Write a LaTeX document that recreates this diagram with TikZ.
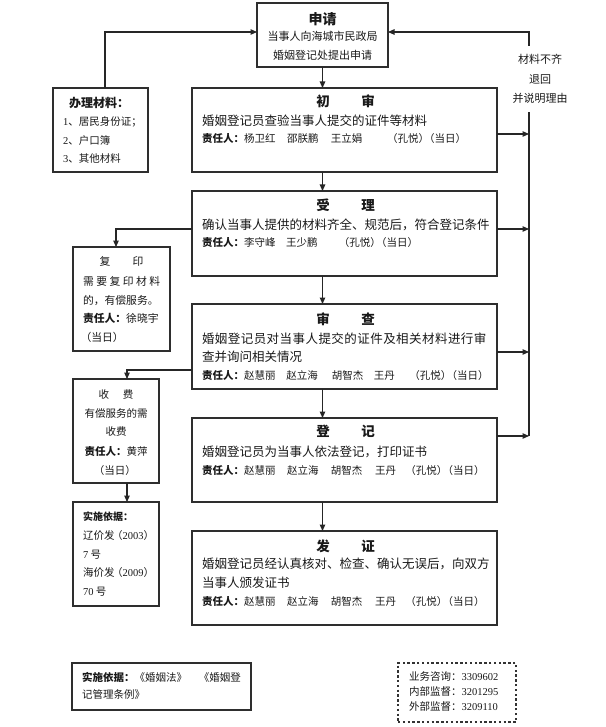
\documentclass[tikz,border=0pt]{standalone}
\usepackage{fontspec}
\setmainfont{Noto Sans CJK SC}
\newfontfamily\dig{Liberation Serif}
\usetikzlibrary{arrows.meta,calc}
\newcommand\pp[1]{\hspace{-2.5pt}（#1）\hspace{-2.5pt}}
\def\spaced#1#2{\def\spgap{#1}\sploop#2\relax}
\def\sploop#1{\ifx#1\relax\else#1\hspace{\spgap}\expandafter\sploop\fi}
\newcommand\tline[6][base west]{\node[txt,anchor=#1,font=\fontsize{#5pt}{#5pt}\selectfont] (#2) at (#3,{#4+0.37*#5}) {#6};}
\begin{document}
\begin{tikzpicture}[x=1pt,y=-1pt,
 box/.style={draw=black!82,line width=1.1pt,inner sep=0,outer sep=0},
 arr/.style={draw=black!85,line width=1.1pt,-{Triangle[length=6.5pt,width=5.5pt]}},
 txt/.style={inner sep=0,outer sep=0,text=black!90}]
\fill[white] (0,0) rectangle (605,727);
\useasboundingbox (0,0) rectangle (605,727);

% boxes
\node[box,minimum width=131,minimum height=64] (sq) at (322.5,35) {};
\node[box,minimum width=305,minimum height=84] (cs) at (344.5,130) {};
\node[box,minimum width=305,minimum height=85] (sl) at (344.5,233.5) {};
\node[box,minimum width=305,minimum height=85] (sc) at (344.5,346.5) {};
\node[box,minimum width=305,minimum height=84] (dj) at (344.5,460) {};
\node[box,minimum width=305,minimum height=94] (fz) at (344.5,578) {};
\node[box,minimum width=95,minimum height=84] (cl) at (100.5,130) {};
\node[box,minimum width=97,minimum height=104] (fy) at (121.5,299) {};
\node[box,minimum width=86,minimum height=104] (sf) at (116,431) {};
\node[box,minimum width=86,minimum height=104] (yj) at (116,554) {};
\node[box,minimum width=179,minimum height=47] (yb) at (161.5,686.5) {};
\node[draw=black!80,line width=2.4pt,dash pattern=on 2.4pt off 2.4pt,inner sep=0,minimum width=118,minimum height=59] (ct) at (457,692.5) {};

% texts: 申请
\tline[base]{sqt}{322.5}{19}{14}{\textbf{申请}}
\tline[base]{sq1}{322.5}{36}{11}{当事人向海城市民政局}
\tline[base]{sq2}{322.5}{55}{11}{婚姻登记处提出申请}
% 初审
\tline[base]{cst}{345.5}{102}{13.5}{\textbf{初\hspace{31.5pt}审}}
\tline{cs1}{202}{121}{12.5}{婚姻登记员查验当事人提交的证件等材料}
\tline{cs2}{202}{139}{10.5}{\textbf{责任人：}杨卫红\hspace{11.5pt}邵朕鹏\hspace{12.5pt}王立娟\hspace{27pt}\pp{孔悦}\pp{当日}}
% 受理
\tline[base]{slt}{345.5}{206}{13.5}{\textbf{受\hspace{31.5pt}理}}
\tline{sl1}{202}{225}{12.5}{确认当事人提供的材料齐全、规范后，符合登记条件}
\tline{sl2}{202}{243}{10.5}{\textbf{责任人：}李守峰\hspace{10.5pt}王少鹏\hspace{24pt}\pp{孔悦}\pp{当日}}
% 审查
\tline[base]{sct}{345.5}{320}{13.5}{\textbf{审\hspace{31.5pt}查}}
\tline{sc1}{202}{339}{12.5}{\spaced{0.45pt}{婚姻登记员对当事人提交的证件及相关材料进行审}}
\tline{sc2}{202}{357}{12.5}{查并询问相关情况}
\tline{sc3}{202}{376}{10.5}{\textbf{责任人：}赵慧丽\hspace{11pt}赵立海\hspace{14pt}胡智杰\hspace{10.5pt}王丹\hspace{17pt}\pp{孔悦}\pp{当日}}
% 登记
\tline[base]{djt}{345.5}{432}{13.5}{\textbf{登\hspace{31.5pt}记}}
\tline{dj1}{202}{452}{12.5}{婚姻登记员为当事人依法登记，打印证书}
\tline{dj2}{202}{471}{10.5}{\textbf{责任人：}赵慧丽\hspace{11.5pt}赵立海\hspace{12.5pt}胡智杰\hspace{12.5pt}王丹\hspace{12pt}\pp{孔悦}\pp{当日}}
% 发证
\tline[base]{fzt}{345.5}{546}{13.5}{\textbf{发\hspace{31.5pt}证}}
\tline{fz1}{202}{564}{12.5}{婚姻登记员经认真核对、检查、确认无误后，向双方}
\tline{fz2}{202}{583}{12.5}{当事人颁发证书}
\tline{fz3}{202}{602}{10.5}{\textbf{责任人：}赵慧丽\hspace{11.5pt}赵立海\hspace{12.5pt}胡智杰\hspace{12.5pt}王丹\hspace{12pt}\pp{孔悦}\pp{当日}}
% 办理材料
\tline{clt}{69}{103}{12}{\textbf{办理材料：}}
\tline{cl1}{63}{122}{10.5}{{\dig 1}、居民身份证；}
\tline{cl2}{63}{141}{10.5}{{\dig 2}、户口簿}
\tline{cl3}{63}{159}{10.5}{{\dig 3}、其他材料}
% 复印
\tline[base]{fyt}{121.5}{262}{10.8}{复\hspace{22pt}印}
\tline{fy1}{83}{282}{10.8}{\spaced{2.5pt}{需要复印材料}}
\tline{fy2}{83}{301}{10.8}{的，有偿服务。}
\tline{fy3}{83}{319}{10.8}{\textbf{责任人：}徐晓宇}
\tline{fy4}{83}{338}{10.8}{\pp{当日}}
% 收费
\tline[base]{sft}{116}{395}{10.5}{收\hspace{14pt}费}
\tline[base]{sf1}{116}{414}{10.5}{有偿服务的需}
\tline[base]{sf2}{116}{432}{10.5}{收费}
\tline[base]{sf3}{116}{452}{10.5}{\textbf{责任人：}黄萍}
\tline[base]{sf4}{116}{471}{10.5}{\pp{当日}}
% 实施依据 (left)
\tline{yjt}{83}{517}{10}{\textbf{实施依据：}}
\tline{yj1}{83}{536}{10.5}{辽价发\pp{{\dig 2003}}}
\tline{yj2}{83}{555}{10.5}{{\dig 7} 号}
\tline{yj3}{83}{573}{10.5}{海价发\pp{{\dig 2009}}}
\tline{yj4}{83}{592}{10.5}{{\dig 70} 号}
% 实施依据 (bottom)
\tline{yb1}{82}{678}{10.5}{\textbf{实施依据：}《婚姻法》\hspace{12pt}《婚姻登}
\tline{yb2}{82}{695}{10.5}{记管理条例》}
% contacts
\tline{ct1}{409}{677}{10.5}{业务咨询：{\dig 3309602}}
\tline{ct2}{409}{692}{10.5}{内部监督：{\dig 3201295}}
\tline{ct3}{409}{707}{10.5}{外部监督：{\dig 3209110}}

% connector points
\coordinate (rb) at (529,436);
\coordinate (csR) at ($(cs.north east)+(0,46)$);
\coordinate (slR) at ($(sl.north east)+(0,38)$);
\coordinate (scR) at ($(sc.north east)+(0,48)$);
\coordinate (djR) at ($(dj.north east)+(0,18)$);
\coordinate (sqR) at ($(sq.north east)+(0,29)$);
\coordinate (sqL) at ($(sq.north west)+(0,29)$);
\coordinate (clT) at ($(cl.north)+(4.5,0)$);
\coordinate (slL) at ($(sl.north west)+(0,38)$);
\coordinate (fyT) at ($(fy.north)+(-5.5,0)$);
\coordinate (scL) at ($(sc.north west)+(0,66)$);
\coordinate (sfT) at ($(sf.north)+(11,0)$);
\coordinate (sfB) at ($(sf.south)+(11,0)$);
\coordinate (yjT) at ($(yj.north)+(11,0)$);

% main flow
\draw[arr] (sq.south) -- (cs.north -| sq.south);
\draw[arr] (cs.south -| sq.south) -- (sl.north -| sq.south);
\draw[arr] (sl.south -| sq.south) -- (sc.north -| sq.south);
\draw[arr] (sc.south -| sq.south) -- (dj.north -| sq.south);
\draw[arr] (dj.south -| sq.south) -- (fz.north -| sq.south);
% right return
\draw[arr] (csR) -- (csR -| rb);
\draw[arr] (slR) -- (slR -| rb);
\draw[arr] (scR) -- (scR -| rb);
\draw[arr] (djR) -- (rb);
\draw[arr] (rb) |- (sqR);
\node[fill=white,inner xsep=1pt,inner ysep=0,minimum height=66,align=center,text=black!90,
  font=\fontsize{11pt}{19.5pt}\selectfont] (back) at (540,79) {材料不齐\\退回\\并说明理由};
% left
\draw[arr] (clT) |- (sqL);
\draw[arr] (slL) -| (fyT);
\draw[arr] (scL) -| (sfT);
\draw[arr] (sfB) -- (yjT);
\end{tikzpicture}
\end{document}
